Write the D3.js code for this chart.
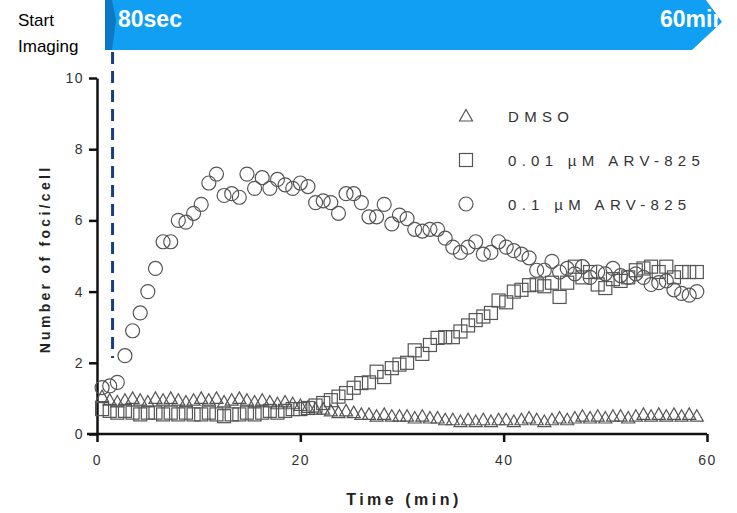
<!DOCTYPE html>
<html>
<head>
<meta charset="utf-8">
<script src="https://cdn.jsdelivr.net/npm/d3@7"></script>
<style>
  body { margin: 0; background: #fff; }
  svg { display: block; font-family: "Liberation Sans", Arial, sans-serif; }
</style>
</head>
<body>
<svg width="737" height="513"></svg>
<script>
// time points (min)
var times = [0.5, 1.25, 2, 2.75, 3.5, 4.25, 5, 5.75, 6.5, 7.25, 8, 8.75, 9.5, 10.25, 11, 11.75,
  12.5, 13.25, 14, 14.75, 15.5, 16.25, 17, 17.75, 18.5, 19.25, 20, 20.75, 21.5, 22.25, 23, 23.75,
  24.5, 25.25, 26, 26.75, 27.5, 28.25, 29, 29.75, 30.5, 31.25, 32, 32.75, 33.5, 34.25, 35, 35.75,
  36.5, 37.25, 38, 38.75, 39.5, 40.25, 41, 41.75, 42.5, 43.25, 44, 44.75, 45.5, 46.25, 47, 47.75,
  48.5, 49.25, 50, 50.75, 51.5, 52.25, 53, 53.75, 54.5, 55.25, 56, 56.75, 57.5, 58.25, 59];

var dmso = [1.05, 0.95, 0.9, 0.95, 1.0, 0.95, 0.9, 1.0, 0.95, 1.0, 0.95, 0.9, 0.95, 1.0, 0.95, 1.0,
  0.9, 0.95, 1.0, 0.95, 0.9, 0.95, 0.9, 0.85, 0.9, 0.85, 0.8, 0.75, 0.7, 0.7, 0.65, 0.6,
  0.65, 0.6, 0.55, 0.55, 0.5, 0.55, 0.5, 0.5, 0.5, 0.45, 0.5, 0.45, 0.45, 0.4, 0.4, 0.35,
  0.4, 0.35, 0.4, 0.35, 0.4, 0.4, 0.35, 0.4, 0.45, 0.4, 0.35, 0.4, 0.45, 0.4, 0.45, 0.5,
  0.45, 0.5, 0.45, 0.5, 0.5, 0.45, 0.5, 0.55, 0.5, 0.55, 0.5, 0.55, 0.5, 0.55, 0.5];

var arvLow = [0.7, 0.65, 0.6, 0.65, 0.6, 0.55, 0.6, 0.6, 0.55, 0.6, 0.55, 0.6, 0.55, 0.55, 0.6, 0.55,
  0.5, 0.55, 0.55, 0.6, 0.55, 0.6, 0.65, 0.6, 0.65, 0.7, 0.7, 0.73, 0.8, 0.87, 0.95, 1.05,
  1.15, 1.3, 1.43, 1.45, 1.75, 1.6, 1.85, 1.95, 2.0, 2.35, 2.25, 2.5, 2.7, 2.72, 2.72, 2.88,
  3.05, 3.2, 3.3, 3.4, 3.75, 3.7, 4.0, 4.05, 4.18, 4.2, 4.15, 4.25, 3.85, 4.25, 4.7, 4.4,
  4.55, 4.2, 4.1, 4.35, 4.3, 4.4, 4.6, 4.65, 4.7, 4.55, 4.7, 4.4, 4.55, 4.55, 4.55];

var arvHigh = [1.3, 1.35, 1.45, 2.2, 2.9, 3.4, 4.0, 4.65, 5.4, 5.4, 6.0, 5.95, 6.2, 6.45, 7.05, 7.3,
  6.7, 6.75, 6.65, 7.3, 6.9, 7.2, 6.9, 7.15, 7.0, 6.9, 7.05, 6.95, 6.5, 6.55, 6.5, 6.2,
  6.75, 6.75, 6.5, 6.1, 6.1, 6.45, 5.9, 6.15, 6.05, 5.75, 5.7, 5.75, 5.75, 5.5, 5.25, 5.1,
  5.25, 5.4, 5.05, 5.1, 5.4, 5.25, 5.15, 5.05, 4.95, 4.6, 4.6, 4.85, 4.55, 4.65, 4.5, 4.7,
  4.4, 4.55, 4.5, 4.65, 4.45, 4.4, 4.5, 4.4, 4.2, 4.25, 4.3, 4.05, 3.95, 3.9, 4.0];

var seriesNames = ["DMSO", "0.01 \u00b5M ARV-825", "0.1 \u00b5M ARV-825"];
var seriesShapes = ["triangle", "square", "circle"];
var xTicks = [0, 20, 40, 60];
var yTicks = [0, 2, 4, 6, 8, 10];
var startMin = 80 / 60; // imaging start

var svg = d3.select("svg");
var x = d3.scaleLinear().domain([0, 60]).range([97, 707]);
var y = d3.scaleLinear().domain([0, 10]).range([434, 78]);

// banner arrow
var bannerPts = [[105, 0], [706, 0], [722, 22], [692, 50], [105, 50]];
svg.append("defs").append("clipPath").attr("id", "bclip")
  .append("polygon").attr("points", bannerPts.join(" "));
svg.append("polygon").attr("points", bannerPts.join(" ")).attr("fill", "#109ff3");
svg.append("polygon").attr("points", "105,0 112,0 116,20 112,50 105,50").attr("fill", "#0b78c4");
svg.append("text").attr("x", 118).attr("y", 27).attr("fill", "#fff")
  .attr("font-size", 23).attr("font-weight", "bold").text("80sec");
svg.append("text").attr("x", 660).attr("y", 27).attr("fill", "#fff").attr("clip-path", "url(#bclip)")
  .attr("font-size", 23).attr("font-weight", "bold").text("60min");

svg.append("text").attr("x", 18).attr("y", 26).attr("font-size", 17).text("Start");
svg.append("text").attr("x", 18).attr("y", 52).attr("font-size", 17).text("Imaging");

// dashed start line
svg.append("line").attr("x1", x(startMin) + 2).attr("x2", x(startMin) + 2)
  .attr("y1", 52).attr("y2", 358)
  .attr("stroke", "#173f80").attr("stroke-width", 3).attr("stroke-dasharray", "12,7");

// axes
var xAxis = svg.append("g").attr("transform", "translate(0," + y(0) + ")")
  .call(d3.axisBottom(x).tickValues(xTicks).tickSize(8).tickPadding(13).tickSizeOuter(0));
var yAxis = svg.append("g").attr("transform", "translate(" + x(0) + ",0)")
  .call(d3.axisLeft(y).tickValues(yTicks).tickSize(8).tickPadding(5).tickSizeOuter(0));
[xAxis, yAxis].forEach(function(g) {
  g.select(".domain").attr("stroke", "#111").attr("stroke-width", 2.5);
  g.selectAll(".tick line").attr("stroke", "#111").attr("stroke-width", 2.5);
  g.selectAll(".tick text").attr("fill", "#333").attr("font-size", 14)
    .attr("font-family", "'Liberation Sans', Arial, sans-serif").style("letter-spacing", "1.5px");
});
xAxis.select(".domain").attr("d", "M" + (x(0) - 10) + ",0H" + x(60));

svg.append("text").attr("x", 404).attr("y", 505).attr("text-anchor", "middle")
  .attr("font-size", 16).attr("font-weight", "bold").attr("fill", "#222")
  .style("letter-spacing", "3.5px").text("Time (min)");
svg.append("text").attr("transform", "translate(50,259) rotate(-90)").attr("text-anchor", "middle")
  .attr("font-size", 14).attr("font-weight", "bold").attr("fill", "#222")
  .style("letter-spacing", "3.3px").text("Number of foci/cell");

// markers
function marker(sel, shape) {
  if (shape == "circle") sel.append("circle").attr("r", 7);
  else if (shape == "square") sel.append("rect").attr("x", -6.5).attr("y", -6.5).attr("width", 13).attr("height", 13);
  else sel.append("path").attr("d", "M0,-6.5L6.5,5L-6.5,5Z");
}

var allSeries = [dmso, arvLow, arvHigh];
allSeries.forEach(function(vals, k) {
  svg.append("g").selectAll("g").data(vals).enter().append("g")
    .attr("transform", function(d, i) { return "translate(" + x(times[i]) + "," + y(d) + ")"; })
    .each(function() { marker(d3.select(this), seriesShapes[k]); })
    .selectAll("*").attr("fill", "none").attr("stroke", "#555").attr("stroke-width", 1.2);
});

// legend
var legend = svg.append("g").selectAll("g").data(seriesNames).enter().append("g")
  .attr("transform", function(d, i) { return "translate(466," + (116 + i * 44) + ")"; });
legend.each(function(d, i) { marker(d3.select(this), seriesShapes[i]); })
  .selectAll("circle,rect,path").attr("fill", "none").attr("stroke", "#555").attr("stroke-width", 1.2);
legend.append("text").attr("x", 42).attr("y", 6).attr("font-size", 15).attr("fill", "#333")
  .style("letter-spacing", "5.3px").text(function(d) { return d; });
</script>
</body>
</html>
